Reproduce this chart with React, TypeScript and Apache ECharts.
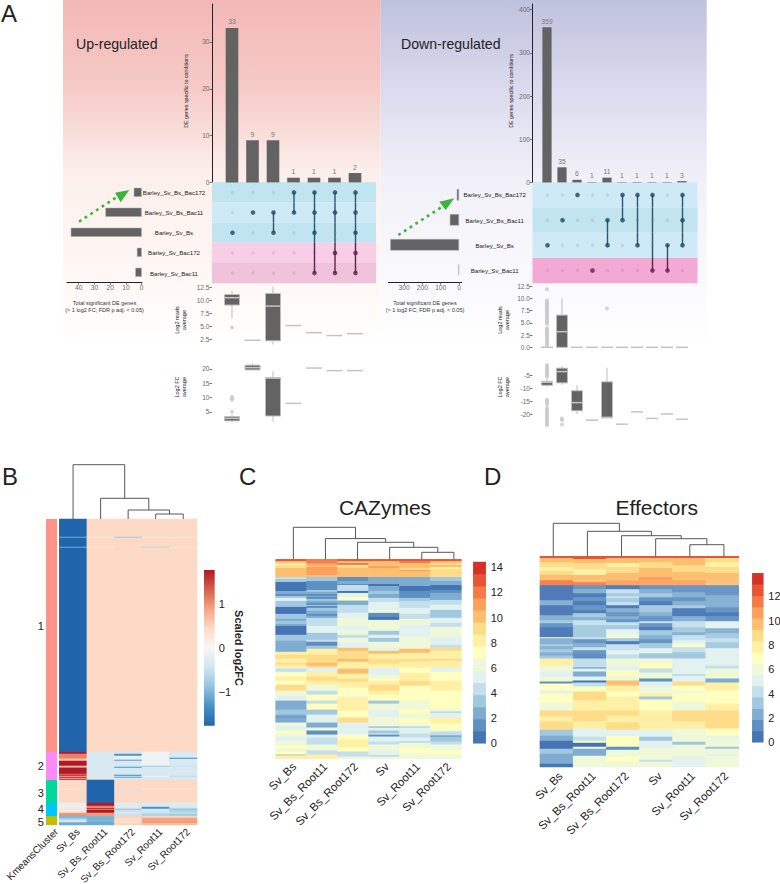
import React, { useEffect, useRef } from "react";
import * as echarts from "echarts";

const FONT = "Liberation Sans";

// ---------- Panel A, up-regulated ----------
const upRows = ["Barley_Sv_Bs_Bac172", "Barley_Sv_Bs_Bac11", "Barley_Sv_Bs", "Barley_Sv_Bac172", "Barley_Sv_Bac11"];
const upTotals = [5, 23, 45, 3, 4];
const upCounts = [33, 9, 9, 1, 1, 1, 2];
const upMembers = [[2], [1], [1, 2], [0, 1], [0, 1, 2, 4], [0, 1, 3, 4], [0, 1, 2, 3, 4]];
// [min, q1, median, q3, max]
const upReads = [
  [6.6, 9.1, 10.5, 11.1, 11.8],
  [2.4, 2.4, 2.4, 2.4, 2.4],
  [1.6, 2.3, 8.9, 11.3, 12.6],
  [5.2, 5.2, 5.2, 5.2, 5.2],
  [3.85, 3.85, 3.85, 3.85, 3.85],
  [3.3, 3.3, 3.3, 3.3, 3.3],
  [3.65, 3.65, 3.65, 3.65, 3.65],
];
const upReadsOut = [[0, 4.85]];
const upFC = [
  [1.4, 1.9, 2.8, 3.4, 4.2],
  [19.6, 19.65, 20.45, 21.3, 22],
  [1.6, 3.6, 16.8, 16.95, 19.2],
  [8, 8, 8, 8, 8],
  [20.3, 20.3, 20.3, 20.3, 20.3],
  [19.4, 19.4, 19.4, 19.4, 19.4],
  [19.4, 19.4, 19.4, 19.4, 19.4],
];
const upFCOut = [[0, 5.1], [0, 9.3], [0, 9.8], [0, 10.3]];

// ---------- Panel A, down-regulated ----------
const downRows = ["Barley_Sv_Bs_Bac172", "Barley_Sv_Bs_Bac11", "Barley_Sv_Bs", "Barley_Sv_Bac11"];
const downTotals = [12, 50, 375, 3];
const downCounts = [359, 35, 6, 1, 11, 1, 1, 1, 1, 3];
const downMembers = [[2], [1], [0], [3], [1, 2], [0, 1], [0, 2], [0, 3], [2, 3], [0, 1, 2]];
const downReads = [
  [0, 0, 0, 0, 0],
  [0, 0, 3.2, 6.6, 10],
  [0, 0, 0, 0, 0],
  [0, 0, 0, 0, 0],
  [0, 0, 0, 0, 0],
  [0, 0, 0, 0, 0],
  [0, 0, 0, 0, 0],
  [0, 0, 0, 0, 0],
  [0, 0, 0, 0, 0],
  [0, 0, 0, 0, 0],
];
const downReadsCol1 = [11.9, 9.6, 9.3, 9, 8.7, 8.4, 8.1, 7.8, 7.5, 7.2, 6.9, 6.6, 6.3, 6, 5.7, 5.4, 5.1, 4.8, 3.9, 3.6, 3.3, 3, 2.7, 2.4, 2.1, 1.8, 1.5, 1.2, 0.9, 0.6, 0.3];
const downReadsOut = [...downReadsCol1.map((v) => [0, v]), [4, 7.95]];
const downFC = [
  [-9.3, -8.8, -7.66, -7.3, -6.2],
  [-8.7, -7.9, -3.6, -2.3, -1.4],
  [-19.7, -18.5, -15.4, -10.9, -8.7],
  [-22.1, -22.1, -22.1, -22.1, -22.1],
  [-21.3, -21.2, -21, -7.5, -2.1],
  [-23.6, -23.6, -23.6, -23.6, -23.6],
  [-18.9, -18.9, -18.9, -18.9, -18.9],
  [-21.4, -21.4, -21.4, -21.4, -21.4],
  [-19.7, -19.7, -19.7, -19.7, -19.7],
  [-21.7, -21.7, -21.7, -21.7, -21.7],
];
const downFCCol1 = [-1.1, -1.6, -2.1, -2.6, -3.1, -3.6, -4.1, -4.6, -5.1, -5.6, -14.3, -14.9, -15.5, -16, -17.4, -18, -18.6, -19.2, -19.8, -20.4, -21, -21.6, -22.2, -22.8, -23.4, -24];
const downFCOut = [...downFCCol1.map((v) => [0, v]), [1, -21.4], [1, -22], [1, -23.7]];

const upBandColors = ["#c1e5f0", "#cdeaf6", "#c1e5f0", "#f8cde6", "#f1c2dc"];
const downBandColors = ["#cdeaf6", "#c1e4ee", "#cdeaf6", "#f4a8d4"];

// ---------- Panel B: [row count, Sv_Bs, Sv_Bs_Root11, Sv_Bs_Root172, Sv_Root11, Sv_Root172] ----------
const bColumns = ["Sv_Bs", "Sv_Bs_Root11", "Sv_Bs_Root172", "Sv_Root11", "Sv_Root172"];
const bCluster1 = [
  [18, -1.77, 0.45, 0.45, 0.45, 0.45],
  [1, -1.1, 0.3, -0.8, 0.3, 0.3],
  [9, -1.77, 0.45, 0.45, 0.45, 0.45],
  [1, -1.1, 0.3, 0.45, -0.6, 0.3],
  [204, -1.77, 0.45, 0.45, 0.45, 0.45],
];
const bCluster2 = [
  [2, 1.77, -0.35, -0.35, -0.1, -0.35],
  [2, 1.1, -0.35, -1.3, -0.1, -0.35],
  [2, 1.1, -0.35, -0.15, -0.1, -0.35],
  [1, 1.0, -0.35, -0.15, -0.1, -1.4],
  [1, 0.6, -0.35, -0.35, -0.1, -0.35],
  [1, 0.6, -0.35, -1.2, -0.1, -0.35],
  [5, 1.77, -0.35, -0.35, -0.1, -0.35],
  [1, 0.5, -0.35, -0.35, -0.8, -0.5],
  [1, 1.0, -0.35, -1.3, -0.35, -0.35],
  [6, 1.77, -0.35, -0.35, -0.35, -0.35],
  [1, 1.2, -0.35, -0.35, -0.35, -0.35],
  [1, 1.77, -0.35, -1.4, -0.35, -0.35],
  [1, 0.7, 0.4, -0.35, -0.1, -0.6],
  [1, 1.77, -0.35, -1.2, -0.35, -0.35],
  [1, 0.7, -0.35, -0.35, -0.35, -0.35],
  [1, 1.77, -0.35, -0.35, -0.35, -0.35],
];
const bCluster3 = [
  [9, 0.45, -1.77, 0.45, 0.45, 0.45],
  [1, 0.25, -1.77, -0.4, 0.3, 0.3],
  [13, 0.45, -1.77, 0.45, 0.45, 0.45],
];
const bCluster4 = [
  [3, -0.2, 1.77, -0.3, -0.3, -0.3],
  [1, 0.2, 1.2, -0.3, -0.3, -0.3],
  [1, 0.2, 0.8, -0.3, -1.3, -0.3],
  [1, -0.2, 1.77, 0.45, -1.3, -0.6],
  [1, 0.4, 1.0, -0.9, -0.4, -0.9],
  [2, -0.2, 1.77, -0.5, -0.4, -0.7],
  [1, 0.4, 1.77, -0.3, -0.5, -0.6],
  [1, 0.9, 0.9, -0.4, -0.5, -0.5],
  [2, 1.0, 0.95, -0.5, -0.7, -0.8],
];
const bCluster5 = [
  [2, -1.0, -1.0, 0.5, 0.5, 0.5],
  [1, -0.9, -1.1, 0.45, 0.85, 0.85],
  [2, -0.6, -1.0, 0.45, 0.9, 0.9],
  [1, -0.1, -1.0, 0.4, 0.9, 0.9],
  [1, -0.9, -1.1, 0.3, 1.0, 1.0],
  [2, -1.1, -1.1, 0.5, 0.7, 0.7],
];
const bClusterLabels = ["1", "2", "3", "4", "5"];
const bClusterColors = ["#ff9289", "#fb8af5", "#00d99a", "#00c8f5", "#c1bd00"];
const bRamp = ["#2166ac", "#4393c3", "#92c5de", "#d1e5f0", "#f7f7f7", "#fddbc7", "#f4a582", "#d6604d", "#b2182b"];

// ---------- Panels C and D: each column is [[end row, level], ...] ----------
const heatColumns = ["Sv_Bs", "Sv_Bs_Root11", "Sv_Bs_Root172", "Sv", "Sv_Root11", "Sv_Root172"];
const levelColors = ["#4575b4", "#5e90c2", "#7fadd1", "#a2c8e0", "#c3dfec", "#e1f2f1", "#eff8d9", "#ffffbf", "#fff0a6", "#fedc8a", "#fdbe70", "#fda05e", "#f67a49", "#e85535", "#d73027"];

const cCol1 = [[2,13],[4,10],[6,8],[9,9],[18,10],[20,4],[23,3],[32,0],[35,2],[37,1],[39,3],[42,5],[48,3],[55,0],[60,3],[62,2],[65,3],[67,2],[76,0],[78,3],[82,3],[90,2],[93,2],[96,8],[100,9],[104,8],[106,9],[109,8],[110,5],[113,4],[114,6],[118,7],[122,8],[126,7],[132,9],[137,6],[142,5],[151,2],[156,3],[158,2],[159,1],[164,2],[168,6],[172,5],[175,7],[178,6],[182,5],[187,6],[190,7],[193,6],[196,7],[197,3],[200,8]];
const cCol2 = [[4,12],[6,11],[8,10],[10,11],[16,11],[18,10],[22,3],[27,1],[31,1],[33,3],[35,2],[37,1],[38,2],[40,1],[42,3],[44,2],[46,1],[47,3],[49,1],[52,3],[55,2],[57,1],[59,2],[62,4],[67,4],[74,5],[76,3],[81,3],[83,4],[87,1],[90,3],[93,8],[96,8],[100,9],[104,9],[107,10],[109,9],[113,5],[118,8],[122,9],[126,8],[132,6],[136,4],[142,7],[145,4],[151,7],[156,3],[164,5],[169,2],[172,6],[176,1],[179,5],[186,4],[192,6],[196,4],[200,8]];
const cCol3 = [[2,13],[4,10],[6,12],[7,8],[9,9],[18,10],[22,1],[25,2],[26,1],[32,4],[34,0],[38,5],[41,7],[42,4],[46,2],[54,4],[59,5],[67,6],[71,5],[76,6],[79,4],[84,6],[89,5],[92,10],[100,9],[103,10],[110,8],[115,10],[120,8],[123,9],[129,8],[137,7],[139,6],[152,8],[159,7],[164,9],[176,5],[181,7],[189,8],[193,7],[198,4],[200,6]];
const cCol4 = [[2,13],[7,10],[9,11],[18,10],[25,2],[27,0],[32,2],[35,3],[39,2],[43,4],[51,5],[54,6],[58,1],[61,0],[72,6],[76,3],[79,5],[83,3],[89,6],[92,5],[95,10],[100,8],[105,9],[109,8],[116,5],[120,6],[122,7],[126,8],[132,9],[136,8],[142,7],[145,3],[152,6],[158,5],[168,6],[169,2],[172,5],[175,3],[176,5],[178,1],[183,5],[186,4],[193,6],[197,5],[198,3],[200,6]];
const cCol5 = [[2,13],[4,12],[9,10],[11,9],[12,11],[18,10],[27,2],[32,0],[39,1],[42,3],[49,4],[55,5],[60,4],[66,6],[69,5],[78,5],[87,6],[90,6],[94,10],[100,8],[103,9],[109,8],[114,7],[122,8],[127,9],[142,7],[151,6],[155,7],[160,6],[165,7],[168,6],[169,3],[175,5],[179,4],[183,5],[184,3],[190,6],[195,7],[200,6]];
const cCol6 = [[2,13],[4,10],[6,9],[8,10],[10,8],[18,9],[22,3],[26,2],[31,0],[34,1],[41,2],[46,4],[51,5],[59,3],[64,5],[68,4],[78,6],[86,5],[89,4],[92,9],[100,8],[102,9],[109,8],[113,5],[122,7],[132,8],[150,7],[153,6],[154,3],[159,5],[165,8],[172,7],[173,5],[177,4],[178,1],[183,3],[186,4],[192,6],[196,7],[200,6]];

const dCol1 = [[2,13],[6,10],[11,9],[15,8],[19,9],[24,10],[29,12],[44,0],[49,2],[59,0],[64,2],[67,3],[71,1],[81,0],[82,7],[88,2],[90,3],[93,2],[96,3],[99,2],[102,3],[109,8],[115,6],[120,5],[125,6],[127,1],[134,7],[137,5],[146,7],[154,6],[160,9],[165,8],[173,9],[179,3],[184,2],[192,0],[197,3],[207,2],[210,0]];
const dCol2 = [[3,13],[7,10],[13,9],[19,8],[26,10],[29,12],[33,1],[37,2],[41,0],[45,1],[49,0],[54,1],[57,0],[61,3],[64,2],[69,4],[74,3],[81,3],[83,4],[87,1],[91,2],[94,4],[102,1],[111,4],[112,1],[115,5],[120,2],[124,5],[126,0],[130,4],[135,7],[144,9],[154,8],[165,9],[172,8],[180,5],[184,4],[186,7],[190,0],[192,6],[199,2],[210,6]];
const dCol3 = [[2,13],[7,10],[11,8],[17,9],[24,10],[29,11],[33,0],[37,4],[40,3],[42,4],[46,3],[49,4],[52,0],[56,2],[60,1],[63,2],[66,1],[69,4],[73,3],[78,5],[82,6],[85,3],[88,0],[94,4],[98,5],[102,4],[110,6],[114,5],[119,7],[124,6],[129,10],[135,8],[140,7],[154,8],[159,9],[166,8],[173,9],[179,5],[190,7],[193,1],[200,6],[205,7],[210,6]];
const dCol4 = [[2,13],[6,10],[12,9],[21,10],[29,11],[33,1],[37,2],[41,3],[45,1],[49,0],[56,3],[60,2],[65,1],[67,4],[71,1],[74,0],[79,3],[83,2],[87,1],[92,3],[97,5],[102,3],[107,6],[112,7],[116,4],[122,6],[125,1],[130,5],[137,6],[140,8],[143,3],[154,7],[173,8],[180,5],[184,3],[191,5],[203,6],[205,4],[210,6]];
const dCol5 = [[2,13],[9,10],[16,9],[24,10],[29,11],[36,1],[41,2],[45,1],[49,2],[52,3],[60,0],[65,2],[71,4],[76,3],[79,2],[84,4],[88,5],[91,7],[96,4],[102,3],[118,5],[119,3],[125,5],[129,9],[134,7],[137,6],[145,7],[154,6],[165,9],[172,8],[185,6],[188,3],[200,6],[210,5]];
const dCol6 = [[2,13],[6,9],[11,8],[17,9],[29,10],[39,1],[51,2],[56,1],[60,0],[65,1],[72,5],[77,2],[82,3],[86,4],[92,3],[109,5],[112,4],[122,6],[126,2],[134,8],[147,7],[154,8],[172,9],[179,7],[181,5],[190,6],[192,3],[197,6],[199,5],[210,6]];

// Dendrograms: [child a, child b, height]; a negative child -n refers to merge n-1
const dendroB = [[3, 4, 5], [2, -1, 9], [1, -2, 20.7], [0, -3, 54.3]];
const dendroC = [[4, 5, 7], [3, -1, 12], [2, -2, 17], [1, -3, 20.7], [0, -4, 32]];
const dendroD = [[4, 5, 11.6], [3, -1, 17.6], [2, -2, 20.6], [1, -3, 25], [0, -4, 33]];

function expandRows(runs: number[][]) {
  const out: number[][] = [];
  runs.forEach((r) => {
    for (let i = 0; i < r[0]; i++) out.push(r.slice(1));
  });
  return out;
}
function expandColumn(col: number[][]) {
  const out: number[] = [];
  col.forEach(([end, level]) => {
    while (out.length < end) out.push(level);
  });
  return out;
}
function dendroSegments(merges: number[][]) {
  const nodes: { p: number; h: number }[] = [];
  const get = (c: number) => (c < 0 ? nodes[-c - 1] : { p: c + 0.5, h: 0 });
  return merges.map(([a, b, h]) => {
    const l = get(a);
    const r = get(b);
    nodes.push({ p: (l.p + r.p) / 2, h });
    return [l.p, l.h, r.p, r.h, h];
  });
}

function buildOption() {
  const grid: any[] = [];
  const xAxis: any[] = [];
  const yAxis: any[] = [];
  const series: any[] = [];
  const visualMap: any[] = [];
  const graphic: any[] = [];

  const addGrid = (left: number, top: number, width: number, height: number) => {
    grid.push({ left, top, width, height, containLabel: false, outerBoundsMode: "none" });
    return grid.length - 1;
  };
  const addX = (o: any) => (xAxis.push(o), xAxis.length - 1);
  const addY = (o: any) => (yAxis.push(o), yAxis.length - 1);
  const pair = (g: number, x: any, y: any) => ({
    xAxisIndex: addX({ gridIndex: g, ...x }),
    yAxisIndex: addY({ gridIndex: g, ...y }),
  });
  const GREY = "#6a6a6a";
  const tickAxis = (values: number[], min: number, max: number, extra: any, fmt?: (v: number) => string) => ({
    type: "value",
    min,
    max,
    splitLine: { show: false },
    axisLine: { show: false },
    axisTick: { show: true, length: 2.5, customValues: values, lineStyle: { color: "#555", width: 0.8 } },
    axisLabel: {
      show: true,
      fontFamily: FONT,
      fontSize: 6.6,
      color: GREY,
      margin: 2.5,
      customValues: values,
      showMinLabel: true,
      showMaxLabel: true,
      formatter: fmt || ((v: number) => String(v)),
    },
    ...extra,
  });
  const hiddenCat = (data: any[], extra: any = {}) => ({ type: "category", data, show: false, ...extra });

  // ---- gradient panels
  graphic.push({
    type: "rect", z: -10, shape: { x: 63, y: 0, width: 317.7, height: 345 }, silent: true,
    style: { fill: new echarts.graphic.LinearGradient(0, 0, 0, 1, [
      { offset: 0, color: "#f2b8b8" }, { offset: 0.25, color: "#f6cac6" }, { offset: 0.5, color: "#fcefeb" }, { offset: 0.85, color: "#fff9f6" }, { offset: 1, color: "#ffffff" },
    ]) },
  });
  graphic.push({
    type: "rect", z: -10, shape: { x: 380.7, y: 0, width: 326, height: 352 }, silent: true,
    style: { fill: new echarts.graphic.LinearGradient(0, 0, 0, 1, [
      { offset: 0, color: "#bfc2dd" }, { offset: 0.25, color: "#dbdaee" }, { offset: 0.5, color: "#f1f0f8" }, { offset: 0.85, color: "#fbfbfd" }, { offset: 1, color: "#ffffff" },
    ]) },
  });

  // ---- upset panel builder
  const upset = (cfg: any) => {
    const n = cfg.counts.length;
    const ids = cfg.counts.map((_: number, i: number) => "set" + (i + 1));
    // top bars
    const barG = addGrid(cfg.bandLeft, 4, cfg.band * n, 178.4);
    const barAx = pair(barG, hiddenCat(ids), {
      ...tickAxis(cfg.barTicks, 0, cfg.barMax, { offset: cfg.bandLeft - cfg.axisX }),
      axisLine: { show: true, onZero: false, lineStyle: { color: "#222", width: 1 } },
    });
    series.push({
      type: "bar", ...barAx, data: cfg.counts, barWidth: cfg.barW,
      itemStyle: { color: "#636363" },
      label: { show: true, position: "top", distance: 2.5, fontFamily: FONT, fontSize: 6.8, color: "#777" },
    });
    // matrix
    const rows = cfg.rows.length;
    const mG = addGrid(cfg.axisX, 182.3, cfg.matW, 100.9);
    const mAx = pair(
      mG,
      { type: "value", min: 0, max: cfg.matMax, show: false },
      {
        type: "category", data: cfg.rows, inverse: true,
        axisLine: { show: false }, axisTick: { show: false },
        axisLabel: { show: true, interval: 0, align: "center", margin: cfg.axisX - cfg.labelX, fontFamily: FONT, fontSize: 6.1, color: "#222" },
      }
    );
    series.push({
      type: "custom", ...mAx, silent: true, z: 1,
      encode: { x: [0, 2], y: 1 },
      data: cfg.rows.map((_: string, i: number) => [0, i, cfg.matMax]),
      renderItem: (p: any, api: any) => {
        const a = api.coord([0, p.dataIndex]);
        const b = api.coord([cfg.matMax, p.dataIndex]);
        const h = api.size([0, 1])[1];
        return { type: "rect", shape: { x: a[0], y: a[1] - h / 2, width: b[0] - a[0], height: h }, style: { fill: cfg.bands[p.dataIndex] } };
      },
    });
    const dark: number[][] = [];
    const faint: number[][] = [];
    cfg.members.forEach((m: number[], c: number) => {
      for (let r = 0; r < rows; r++) (m.includes(r) ? dark : faint).push([c + 1, r]);
    });
    series.push({
      type: "scatter", ...mAx, z: 2, symbolSize: 3.5, data: faint,
      itemStyle: { color: "rgba(60,60,80,0.13)" },
    });
    series.push({
      type: "custom", ...mAx, z: 3, silent: true,
      encode: { x: 0, y: [1, 2] },
      data: cfg.members.filter((m: number[]) => m.length > 1).map((m: number[]) => [cfg.members.indexOf(m) + 1, m[0], m[m.length - 1]]),
      renderItem: (p: any, api: any) => {
        const col = api.value(0), from = api.value(1), to = api.value(2);
        const children: any[] = [];
        for (let r = from; r < to; r++) {
          const a = api.coord([col, r]);
          const b = api.coord([col, r + 1]);
          const mid = (a[1] + b[1]) / 2;
          const cA = r >= cfg.pinkFrom ? "#5d2150" : "#2a566c";
          const cB = r + 1 >= cfg.pinkFrom ? "#5d2150" : "#2a566c";
          children.push({ type: "line", shape: { x1: a[0], y1: a[1], x2: a[0], y2: mid }, style: { stroke: cA, lineWidth: 1.4 } });
          children.push({ type: "line", shape: { x1: a[0], y1: mid, x2: a[0], y2: b[1] }, style: { stroke: cB, lineWidth: 1.4 } });
        }
        return { type: "group", children };
      },
    });
    series.push({
      type: "scatter", ...mAx, z: 4, symbolSize: 4.6, data: dark,
      itemStyle: { color: (p: any) => (p.value[1] >= cfg.pinkFrom ? "#5d1f4f" : "#1c4a60") },
    });
    // totals
    const tG = addGrid(cfg.totLeft, 182.3, cfg.totRight - cfg.totLeft, 100);
    const tAx = pair(
      tG,
      {
        type: "value", inverse: true, min: cfg.totMin, max: cfg.totMax, splitLine: { show: false },
        axisLine: { show: true, onZero: false, lineStyle: { color: "#222", width: 1 } },
        axisTick: { show: true, length: 2.5, customValues: cfg.totTicks, lineStyle: { color: "#555", width: 0.8 } },
        axisLabel: { show: true, customValues: cfg.totTicks, fontFamily: FONT, fontSize: 6.6, color: GREY, margin: 2, showMinLabel: true, showMaxLabel: true },
        name: "Total significant DE genes\n(> 1 log2 FC; FDR p adj. < 0.05)",
        nameLocation: "middle", nameGap: 16.5,
        nameTextStyle: { fontFamily: FONT, fontSize: 5.5, color: "#333", lineHeight: 7.5 },
      },
      hiddenCat(cfg.rows, { inverse: true })
    );
    series.push({
      type: "bar", ...tAx, data: cfg.totals, barWidth: cfg.totW,
      itemStyle: { color: "#636363", borderColor: "#aaa", borderWidth: 0.5 },
    });
    // box plots
    const boxes = (top: number, height: number, min: number, max: number, ticks: number[], data: number[][], out: number[][], fmt?: (v: number) => string) => {
      const g = addGrid(cfg.bandLeft, top, cfg.band * n, height);
      const ax = pair(g, hiddenCat(ids), tickAxis(ticks, min, max, { offset: cfg.bandLeft - cfg.axisX }, fmt));
      series.push({
        type: "custom", ...ax, silent: true, z: 3,
        encode: { x: 0, y: [1, 2, 3, 4, 5] },
        data: data.map((d, i) => [i, ...d]),
        renderItem: (p: any, api: any) => {
          const i = p.dataIndex;
          const [lo, q1, med, q3, hi] = data[i];
          const x = api.coord([i, med])[0];
          const y = (v: number) => api.coord([i, v])[1];
          const w = cfg.boxW;
          const children: any[] = [];
          children.push({ type: "line", shape: { x1: x, y1: y(lo), x2: x, y2: y(hi) }, style: { stroke: "#bdbdbd", lineWidth: 1 } });
          if (q3 > q1) {
            children.push({ type: "rect", shape: { x: x - w / 2, y: y(q3), width: w, height: y(q1) - y(q3) }, style: { fill: "#636363", stroke: "#bdbdbd", lineWidth: 1 } });
          }
          children.push({ type: "line", shape: { x1: x - w / 2 - 0.5, y1: y(med), x2: x + w / 2 + 0.5, y2: y(med) }, style: { stroke: "#c4c4c4", lineWidth: 1.5 } });
          return { type: "group", children };
        },
      });
      series.push({ type: "scatter", ...ax, z: 3, symbolSize: 4, data: out, itemStyle: { color: "#c9c9c9" } });
    };
    boxes(cfg.rd.top, cfg.rd.h, cfg.rd.min, cfg.rd.max, cfg.rd.ticks, cfg.reads, cfg.readsOut, (v) => v.toFixed(1));
    boxes(cfg.fc.top, cfg.fc.h, cfg.fc.min, cfg.fc.max, cfg.fc.ticks, cfg.foldChange, cfg.fcOut);
  };

  upset({
    counts: upCounts, rows: upRows, members: upMembers, totals: upTotals, bands: upBandColors, pinkFrom: 3,
    bandLeft: 221.75, band: 20.5, axisX: 212, barW: 12.6, barTicks: [0, 10, 20, 30], barMax: 38.1,
    matW: 164, matMax: 8, labelX: 174,
    totLeft: 67, totRight: 142, totMin: -0.2, totMax: 47.4, totTicks: [0, 10, 20, 30, 40], totW: 9,
    boxW: 15,
    rd: { top: 284, h: 61, min: 1.5, max: 13.1, ticks: [2.5, 5, 7.5, 10, 12.5] },
    fc: { top: 360, h: 64, min: 0.82, max: 23.1, ticks: [5, 10, 15, 20] },
    reads: upReads, readsOut: upReadsOut, foldChange: upFC, fcOut: upFCOut,
  });
  upset({
    counts: downCounts, rows: downRows, members: downMembers, totals: downTotals, bands: downBandColors, pinkFrom: 3,
    bandLeft: 539.5, band: 15, axisX: 532.5, barW: 9.2, barTicks: [0, 100, 200, 300, 400], barMax: 413,
    matW: 165, matMax: 11, labelX: 494.7,
    totLeft: 388.3, totRight: 461.7, totMin: -14.8, totMax: 386, totTicks: [0, 100, 200, 300], totW: 11.4,
    boxW: 11,
    rd: { top: 284, h: 66, min: -0.55, max: 12.97, ticks: [0, 2.5, 5, 7.5, 10, 12.5] },
    fc: { top: 360, h: 68, min: -25.05, max: 0.8, ticks: [-20, -15, -10, -5] },
    reads: downReads, readsOut: downReadsOut, foldChange: downFC, fcOut: downFCOut,
  });

  // ---- dendrogram builder
  const dendro = (left: number, top: number, width: number, height: number, n: number, merges: number[][], maxH: number) => {
    const g = addGrid(left, top, width, height);
    const ax = pair(g, { type: "value", min: 0, max: n, show: false }, { type: "value", min: 0, max: maxH, show: false });
    series.push({
      type: "custom", ...ax, silent: true,
      encode: { x: [0, 2], y: [1, 3, 4] },
      data: dendroSegments(merges),
      renderItem: (p: any, api: any) => {
        const [p1, h1, p2, h2, h] = [0, 1, 2, 3, 4].map((i) => api.value(i));
        return {
          type: "polyline",
          shape: { points: [api.coord([p1, h1]), api.coord([p1, h]), api.coord([p2, h]), api.coord([p2, h2])] },
          style: { stroke: "#444", fill: null, lineWidth: 0.9 },
        };
      },
    });
  };

  // ---- column labels live on their own axis, nudged to where the reference puts them
  const columnLabels = (left: number, top: number, width: number, height: number, cols: string[], fs: number, margin: number, dx: number) => {
    const g = addGrid(left + dx, top, width, height);
    pair(
      g,
      {
        type: "category", data: cols, z: 20, axisLine: { show: false }, axisTick: { show: false },
        axisLabel: { show: true, rotate: 45, interval: 0, margin, fontSize: fs, fontFamily: FONT, color: "#222" },
      },
      { type: "value", show: false, min: 0, max: 1 }
    );
  };
  const heat = (left: number, top: number, width: number, height: number, cols: string[], matrix: number[][], fs: number, margin: number, dx: number) => {
    const g = addGrid(left, top, width, height);
    const rowIds = matrix.map((_, i) => String(i));
    const ax = pair(g, hiddenCat(cols), hiddenCat(rowIds, { inverse: true }));
    columnLabels(left, top, width, height, cols, fs, margin, dx);
    const data: number[][] = [];
    matrix.forEach((row, r) => row.forEach((v, c) => data.push([c, r, v])));
    series.push({ type: "heatmap", ...ax, data, progressive: 0, silent: true, emphasis: { disabled: true } });
    return series.length - 1;
  };

  // ---- Panel B
  const bClusters = [bCluster1, bCluster2, bCluster3, bCluster4, bCluster5];
  const bMatrix = bClusters.flatMap((c) => expandRows(c));
  const bIdx = heat(59.3, 519, 137.7, 306, bColumns, bMatrix, 10, 5, 5);
  visualMap.push({
    type: "continuous", show: false, seriesIndex: bIdx, dimension: 2, min: -1.77, max: 1.77, inRange: { color: bRamp },
  });
  // cluster strip: one block per cluster, as long as its rows
  {
    const spans: number[][] = [];
    let at = 0;
    bClusters.forEach((c, i) => {
      const len = expandRows(c).length;
      spans.push([0, at, at + len, i]);
      at += len;
    });
    const g = addGrid(46, 519, 11, 306);
    const ax = pair(g, hiddenCat(["KmeansCluster"]), { type: "value", show: false, inverse: true, min: 0, max: at });
    columnLabels(46, 519, 11, 306, ["KmeansCluster"], 10, 5, 5);
    series.push({
      type: "custom", ...ax, silent: true,
      encode: { x: 0, y: [1, 2] },
      data: spans,
      renderItem: (p: any, api: any) => {
        const a = api.coord([0, api.value(1)]);
        const b = api.coord([0, api.value(2)]);
        const w = api.size([1, 0])[0];
        return { type: "rect", shape: { x: a[0] - w / 2, y: a[1], width: w, height: b[1] - a[1] }, style: { fill: bClusterColors[p.dataIndex] } };
      },
    });
  }
  dendro(59.3, 464.7, 137.7, 54.3, 5, dendroB, 54.3);
  bClusterLabels.forEach((t, i) => {
    const ys = [625.7, 765.7, 792.7, 808.7, 821.7];
    graphic.push({ type: "text", z: 10, x: 40.7, y: ys[i], style: { text: t, fontFamily: FONT, fontSize: 11, fill: "#222", align: "center", verticalAlign: "middle" } });
  });
  // B colour bar
  {
    const g = addGrid(204, 570, 10.7, 155.7);
    const ax = pair(g, hiddenCat(["scale"]), {
      type: "value", position: "right", min: -1.77, max: 1.77, splitLine: { show: false }, axisLine: { show: false }, axisTick: { show: false },
      axisLabel: { show: true, customValues: [-1, 0, 1], margin: 4, fontFamily: FONT, fontSize: 11, color: "#222", formatter: (v: number) => String(v).replace("-", "\u2212") },
    });
    series.push({
      type: "custom", ...ax, silent: true,
      encode: { x: 0, y: [1, 2] },
      data: [[0, -1.77, 1.77]],
      renderItem: (p: any, api: any) => {
        const lo = api.coord([0, api.value(1)]);
        const hi = api.coord([0, api.value(2)]);
        const w = api.size([1, 0])[0];
        return {
          type: "rect",
          shape: { x: lo[0] - w / 2, y: hi[1], width: w, height: lo[1] - hi[1] },
          style: { fill: new echarts.graphic.LinearGradient(0, 1, 0, 0, bRamp.map((color, i) => ({ offset: i / (bRamp.length - 1), color }))) },
        };
      },
    });
  }

  // ---- Panels C, D
  const toMatrix = (cols: number[][][]) => {
    const ex = cols.map(expandColumn);
    return ex[0].map((_, r) => ex.map((c) => c[r]));
  };
  const cIdx = heat(275.7, 559.3, 185.6, 199.4, heatColumns, toMatrix([cCol1, cCol2, cCol3, cCol4, cCol5, cCol6]), 11.5, 6, 3);
  const dIdx = heat(540, 556.3, 198.7, 210.7, heatColumns, toMatrix([dCol1, dCol2, dCol3, dCol4, dCol5, dCol6]), 11.5, 7, 4);
  dendro(277.3, 527.3, 192.6, 32, 6, dendroC, 32);
  dendro(536.2, 523.3, 204.8, 33, 6, dendroD, 33);

  const levelBar = (left: number, top: number, width: number, height: number, maxV: number, ticks: number[]) => {
    const g = addGrid(left, top, width, height);
    const levels = levelColors.map((_, i) => i);
    const xi = addX({ gridIndex: g, ...hiddenCat(["level"]) });
    const yi = addY({ gridIndex: g, ...hiddenCat(levels) });
    addY({
      gridIndex: g, type: "value", position: "right", min: 0, max: maxV, splitLine: { show: false }, axisLine: { show: false }, axisTick: { show: false },
      axisLabel: { show: true, customValues: ticks, margin: 5, fontFamily: FONT, fontSize: 11, color: "#222" },
    });
    series.push({
      type: "heatmap", xAxisIndex: xi, yAxisIndex: yi, silent: true, progressive: 0,
      data: levels.map((l) => [0, l, l]),
    });
    return series.length - 1;
  };
  const cBar = levelBar(473.3, 562, 12.4, 181.3, 14.42, [0, 2, 4, 6, 8, 10, 12, 14]);
  const dBar = levelBar(752.3, 573.3, 11, 169, 13.88, [0, 2, 4, 6, 8, 10, 12]);
  visualMap.push({
    type: "piecewise", show: false, seriesIndex: [cIdx, dIdx, cBar, dBar], dimension: 2,
    pieces: levelColors.map((color, i) => ({ value: i, color })),
  });

  // ---- texts
  const txt = (text: string, x: number, y: number, fontSize: number, extra: any = {}, rotation = 0) =>
    graphic.push({
      type: "text", z: 10, x, y, rotation,
      style: { text, fontFamily: FONT, fontSize, fill: "#222", align: "center", verticalAlign: "middle", ...extra },
    });
  const L = { align: "left" };
  txt("A", 1, 13, 24, L);
  txt("B", 2, 476.5, 24, L);
  txt("C", 239, 476.5, 24, L);
  txt("D", 484, 476.5, 24, L);
  txt("Up-regulated", 76, 44, 14.1, L);
  txt("Down-regulated", 401, 44, 14.1, L);
  txt("CAZymes", 385, 507.7, 21);
  txt("Effectors", 656.7, 507.7, 21);
  txt("Scaled log2FC", 239, 648, 11, { fontWeight: "bold" }, -Math.PI / 2);
  const R = Math.PI / 2;
  txt("DE genes specific to conditions", 185.5, 91, 5.3, {}, R);
  txt("DE genes specific to conditions", 510.7, 91, 5.3, {}, R);
  const side = { lineHeight: 7 };
  txt("Log2 reads\naverage", 180.5, 320, 5.5, side, R);
  txt("Log2 FC\naverage", 180.5, 387, 5.5, side, R);
  txt("Log2 reads\naverage", 503, 320, 5.5, side, R);
  txt("Log2 FC\naverage", 503, 387, 5.5, side, R);

  // ---- green arrows
  const GREEN = "#3cb43c";
  const arrow = (x1: number, y1: number, x2: number, y2: number, head: number[][]) => {
    graphic.push({ type: "line", z: 9, shape: { x1, y1, x2, y2 }, style: { stroke: GREEN, lineWidth: 2.6, lineDash: [2.8, 4] } });
    graphic.push({ type: "polygon", z: 9, shape: { points: head }, style: { fill: GREEN } });
  };
  arrow(79, 221.7, 116, 197.5, [[129.3, 190], [115, 192.7], [120.7, 202.3]]);
  arrow(398.3, 235, 441, 207.5, [[454.3, 198.3], [439.3, 201.7], [445.7, 210]]);

  return {
    animation: false,
    backgroundColor: "#ffffff",
    textStyle: { fontFamily: FONT },
    tooltip: { show: false },
    grid, xAxis, yAxis, series, visualMap, graphic,
  };
}

export default function App() {
  const ref = useRef<HTMLDivElement>(null);
  useEffect(() => {
    document.body.style.margin = "0";
    const chart = echarts.init(ref.current as HTMLDivElement, undefined, { renderer: "svg" });
    chart.setOption(buildOption() as any);
    return () => chart.dispose();
  }, []);
  return <div ref={ref} style={{ width: 780, height: 884 }} />;
}
